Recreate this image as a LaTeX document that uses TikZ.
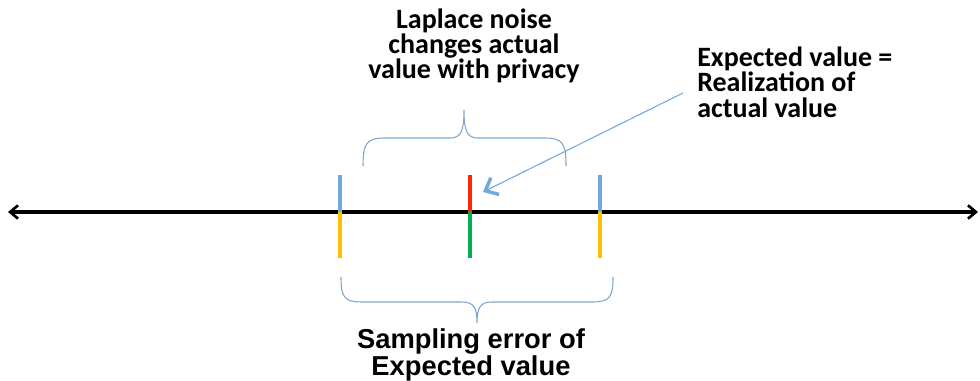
\documentclass[tikz,border=0pt]{standalone}
\usepackage{fontspec}
\setmainfont{Carlito}
\newfontfamily\arialb{Liberation Sans}
\usetikzlibrary{arrows.meta}
\definecolor{tickblue}{RGB}{111,168,220}
\definecolor{bracecol}{RGB}{125,165,205}
\definecolor{tickred}{RGB}{255,40,0}
\definecolor{tickgreen}{RGB}{0,176,80}
\definecolor{tickyellow}{RGB}{255,192,0}
\tikzset{
  axisline/.style={line width=2.6pt, black, {Straight Barb[length=6pt,width=10pt,line width=2pt]}-{Straight Barb[length=6pt,width=10pt,line width=2pt]}},
  tickmark/.style={line width=3pt},
  bracestyle/.style={bracecol, line width=0.8pt},
  calibtext/.style={font=\fontsize{21}{19}\selectfont\bfseries, align=center, inner sep=0pt},
  ariatext/.style={font=\arialb\fontsize{20.5}{18.6}\selectfont\bfseries, align=center, inner sep=0pt},
  pointer/.style={tickblue, line width=0.8pt, -{Straight Barb[length=8pt,width=14pt,line width=2.6pt]}}
}
\begin{document}
\begin{tikzpicture}[x=0.75pt,y=-0.75pt]
\useasboundingbox (0,0) rectangle (980,381);
% axis
\coordinate (axL) at (8,212);
\coordinate (axR) at (978,212);
\draw[axisline] (axL) -- (axR);
% ticks
\coordinate (t1) at (340,212);
\coordinate (t2) at (470,212);
\coordinate (t3) at (600,212);
\draw[tickmark, tickblue] (t1) -- ++(0,-37);
\draw[tickmark, tickyellow] (t1) -- ++(0,46);
\draw[tickmark, tickred] (t2) -- ++(0,-37);
\draw[tickmark, tickgreen] (t2) -- ++(0,46);
\draw[tickmark, tickblue] (t3) -- ++(0,-37);
\draw[tickmark, tickyellow] (t3) -- ++(0,46);
% top brace
\draw[bracestyle] (363,166) .. controls (363,144) and (366,138) .. (385,138)
  -- (450,138) .. controls (461,138) and (464,131) .. (464,110)
  .. controls (464,131) and (467,138) .. (478,138)
  -- (545,138) .. controls (563,138) and (566,144) .. (566,166);
% bottom brace
\draw[bracestyle] (341,277) .. controls (341,297) and (344,302) .. (362,302)
  -- (462,302) .. controls (474,302) and (477,308) .. (477,323)
  .. controls (477,308) and (480,302) .. (492,302)
  -- (592,302) .. controls (610,302) and (613,297) .. (613,277);
% texts
\node[calibtext] (lap) at (474,46) {Laplace noise\\changes actual\\value with privacy};
\node[calibtext, align=left, anchor=west] (exp) at (697,82) {Expected value =\\Realization of\\actual value};
\node[ariatext] (samp) at (471,355) {Sampling error of\\Expected value};
% pointer
\coordinate (pstart) at (683,93);
\coordinate (ptip) at (483,192);
\draw[pointer] (pstart) -- (ptip);
\end{tikzpicture}
\end{document}
